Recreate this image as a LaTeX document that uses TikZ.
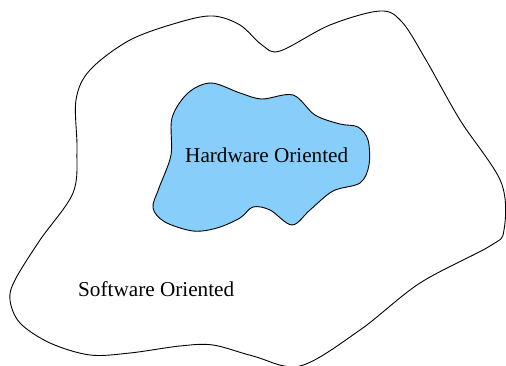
\documentclass[tikz,border=0pt]{standalone}
\usepackage{fontspec}
\setmainfont{Liberation Serif}
\definecolor{hwblue}{RGB}{135,206,250}
\begin{document}
\begin{tikzpicture}[x=1pt,y=-1pt,
  blob/.style={draw=black,line width=0.9pt,line join=round},
  lbl/.style={font=\fontsize{21.2}{25}\selectfont,inner sep=0pt,anchor=base west}]
\useasboundingbox (0,0) rectangle (506,366);
% outer region
\draw[blob] plot[smooth cycle,tension=0.55] coordinates {
  (76,100) (90,70) (130,40) (180,22) (213,16) (240,25) (262,45) (280,51)
  (330,25) (380,11) (402,22) (426,60) (460,120) (501,182) (504,230)
  (490,246) (420,283) (360,330) (300,366) (253,356) (213,345) (180,346)
  (130,353) (90,355) (50,343) (20,323) (10,300) (15,280) (40,240)
  (73,193) (77,150)};
% inner region
\draw[blob,fill=hwblue] plot[smooth cycle,tension=0.55] coordinates {
  (211,83) (240,93) (262,99) (293,95) (315,115) (340,124) (358,127)
  (368,140) (369,165) (360,183) (333,191) (310,210) (292,225) (270,210)
  (253,207) (240,218) (217,228) (193,231) (165,222) (153,208) (159,188)
  (171,155) (172,118) (188,93)};
\node[lbl] (hw) at (185,163) {Hardware Oriented};
\node[lbl] (sw) at (78,296) {Software Oriented};
\end{tikzpicture}
\end{document}
